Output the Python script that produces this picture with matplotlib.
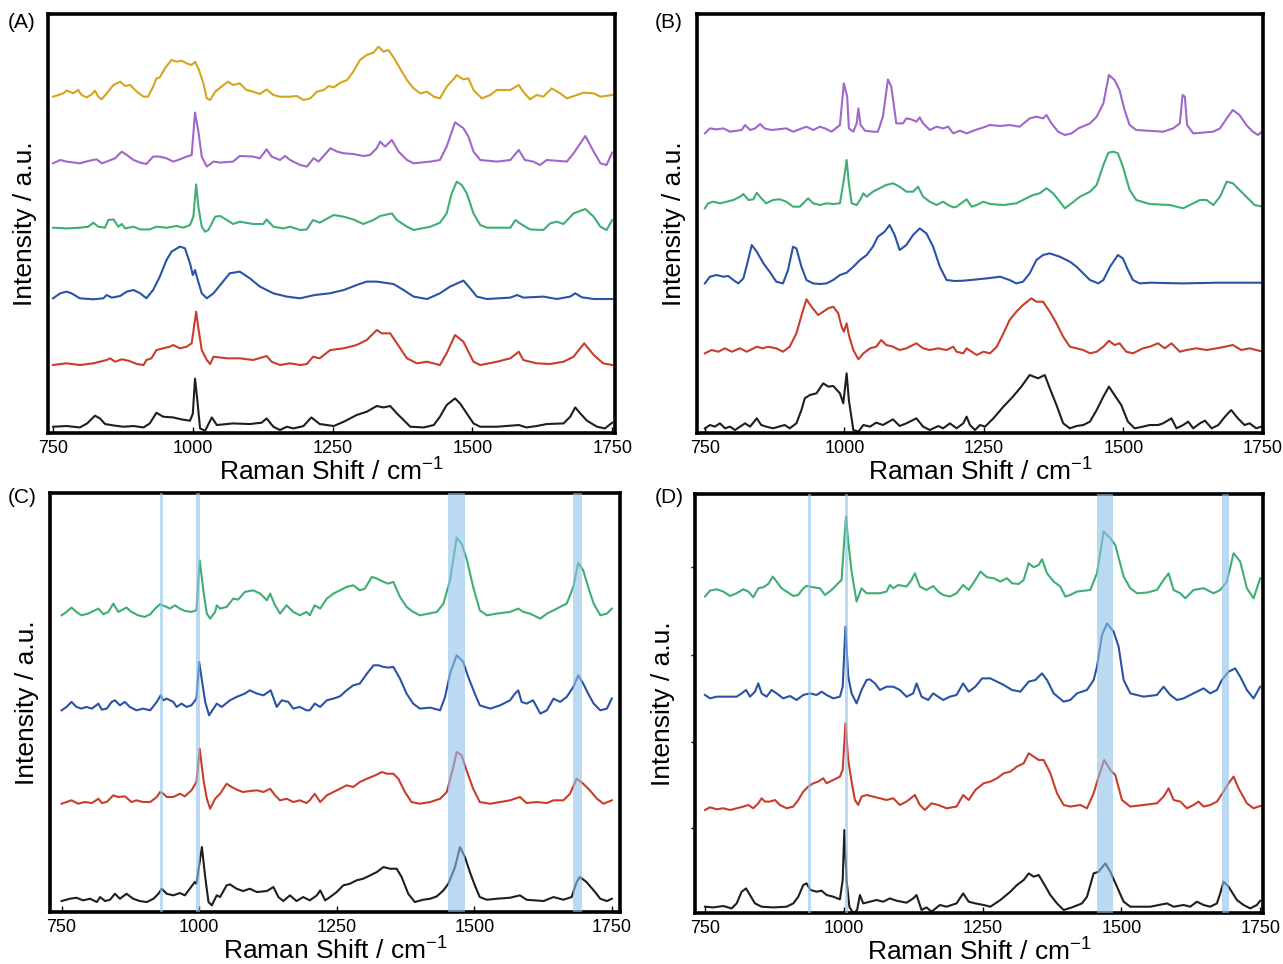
import numpy as np
import matplotlib.pyplot as plt

plt.rcParams['font.family'] = ['Liberation Sans', 'DejaVu Sans']
plt.rcParams['mathtext.fontset'] = 'custom'
plt.rcParams['mathtext.rm'] = 'Liberation Sans'

TICKS = [750, 1000, 1250, 1500, 1750]
TICK_LABELS = ['750', '1000', '1250', '1500', '1750']
XLABEL = r'Raman Shift / cm$^{\mathregular{-1}}$'
YLABEL = 'Intensity / a.u.'

BLACK = '#1e1e1e'
RED = '#c93d2c'
BLUE = '#2a52a6'
GREEN = '#3fae74'
PURPLE = '#a066cc'
GOLD = '#d6a51c'
BAND = '#8fc2e8'

# ---- panel A : (Raman shift, intensity above own baseline)
A_BLACK = [(750,0),(774,0.7),(798,-0.7),(811,3.3),(825,11),(834,8.3),(843,2.7),(858,1.3),(876,0),(894,0.7),(912,-0.7),(923,3.3),(935,14),(947,10),(965,9.3),(980,7.3),(995,6),(1000,13),(1004,48),(1008,27),(1013,-1.7),(1022,-4),(1034,9.3),(1043,1.7),(1072,3.3),(1102,2.7),(1123,4),(1132,8.3),(1144,0),(1156,-3.3),(1168,0),(1180,-1.7),(1198,0.7),(1212,9.3),(1227,2.7),(1252,0.7),(1270,5),(1293,11.7),(1311,15),(1329,20.7),(1341,19.3),(1353,20.7),(1365,13.3),(1380,5),(1389,0),(1413,-0.7),(1431,1.7),(1442,10),(1454,21.7),(1469,28.3),(1478,23.3),(1490,13.3),(1502,3.3),(1514,0),(1544,0),(1583,1.7),(1597,-0.7),(1615,0.7),(1633,2.7),(1663,3.3),(1675,10),(1684,19.3),(1693,13.3),(1705,6),(1723,0),(1737,-1.7),(1750,4)]
A_RED = [(750,0),(774,1.7),(798,0),(822,1.7),(846,5),(852,6.7),(861,3.3),(873,5.7),(885,4.3),(900,1),(912,0),(917,5),(926,6.7),(935,15),(947,16.7),(959,18.3),(965,20),(977,16.7),(989,18.3),(998,21.7),(1006,53.3),(1010,36.7),(1016,15),(1025,5),(1031,1),(1037,8.3),(1061,6.7),(1084,6.7),(1108,5),(1132,9),(1141,3.3),(1156,0),(1174,1.7),(1192,0),(1204,1),(1215,8.3),(1227,6.7),(1246,15),(1270,16.7),(1293,20),(1311,25),(1329,35),(1338,31.7),(1353,31.7),(1365,21.7),(1383,6.7),(1401,1.7),(1419,3.3),(1442,0),(1454,11.7),(1469,30),(1484,23.3),(1502,3.3),(1514,0),(1544,3.3),(1568,6.7),(1583,13.3),(1591,5),(1615,1.7),(1639,1),(1663,3.3),(1681,8.3),(1700,21.7),(1717,10),(1734,1.7),(1750,0)]
A_BLUE = [(750,0),(763,5),(774,6.7),(783,5),(798,0),(822,-1),(840,0),(846,3.3),(855,0.7),(870,2.3),(882,6.7),(894,8.3),(906,5),(917,0),(929,8.3),(941,21.7),(953,38.3),(962,46.7),(977,51.7),(986,50),(995,35),(1000,23.3),(1004,28.3),(1008,20),(1016,5),(1025,0),(1037,5),(1049,13.3),(1066,25),(1084,26.7),(1102,20),(1120,11.7),(1144,5),(1168,1.7),(1192,0),(1218,3.3),(1245,5),(1270,8.3),(1293,13.3),(1311,16.7),(1329,16.7),(1359,14.3),(1377,8.3),(1395,1.7),(1419,-0.7),(1442,5),(1460,11.7),(1484,17.7),(1496,10),(1508,1.7),(1526,-0.7),(1568,0.7),(1580,3.3),(1591,0.7),(1627,1.7),(1651,-0.7),(1675,1.7),(1684,5),(1696,1),(1717,-0.7),(1750,-0.7)]
A_GREEN = [(750,0),(774,-0.7),(798,0),(813,1),(822,5),(831,1),(843,0),(849,7.7),(858,8.3),(867,1),(873,3.7),(879,-0.7),(894,1),(906,-1.7),(923,-1.7),(935,1),(953,0),(971,1.7),(983,0),(995,2.7),(1001,11),(1006,43.3),(1010,21),(1016,1),(1022,-4),(1028,-2.3),(1040,11),(1049,11.7),(1061,7.7),(1072,3.7),(1084,6),(1108,3.7),(1126,3.7),(1132,8.3),(1144,1),(1162,-0.7),(1174,1),(1192,-2.3),(1204,-1.7),(1215,7.7),(1227,5),(1252,12.7),(1270,11),(1287,8.3),(1305,3.7),(1323,7.7),(1335,11.7),(1356,14.3),(1365,7.7),(1383,1),(1395,-2.3),(1425,1),(1442,5),(1454,14.3),(1463,34.3),(1472,46),(1481,42.7),(1490,34.3),(1502,14.3),(1514,2.7),(1526,0),(1568,0),(1577,7.7),(1585,4.3),(1603,-1.7),(1627,-2.3),(1639,4.3),(1651,6),(1663,3.7),(1681,14.3),(1702,18.7),(1717,11),(1729,1),(1740,-2.3),(1750,7.7)]
A_PURPLE = [(750,0),(763,3.3),(774,1.7),(798,0),(816,2.7),(828,4),(837,0),(846,1.7),(861,5),(873,11.7),(882,8.3),(894,3.3),(906,0.7),(917,-0.7),(929,6.7),(941,6.7),(953,5),(965,1.7),(977,4),(989,6.7),(998,8.3),(1004,50.7),(1010,31.7),(1016,6.7),(1025,-3.3),(1037,1.7),(1049,0.7),(1072,1.7),(1084,7.3),(1108,6.7),(1120,5),(1132,14),(1141,6.7),(1156,3.3),(1165,7.3),(1174,3.3),(1192,-1.7),(1204,-3.3),(1216,5),(1225,1.7),(1246,15),(1258,11.7),(1270,10),(1287,9.3),(1305,7.3),(1317,8.3),(1329,15),(1335,21.7),(1344,16.7),(1356,23.3),(1368,11.7),(1383,3.3),(1395,0),(1425,1.7),(1442,3.3),(1454,16.7),(1469,41),(1484,35),(1493,26.7),(1502,11.7),(1514,3.3),(1544,1.7),(1568,3.3),(1583,13.3),(1594,3.3),(1609,1.7),(1621,-1.7),(1633,3.3),(1669,1.7),(1681,10),(1702,27.3),(1717,11.7),(1729,0),(1740,-1.7),(1750,10.7)]
A_GOLD = [(750,0),(760,1.7),(768,3.3),(774,6),(780,5),(786,3.3),(795,6.7),(801,1.7),(810,-0.7),(819,2.3),(825,6),(831,0),(837,-2.7),(846,3.3),(858,11.7),(870,15),(879,10.7),(888,11.7),(900,5),(912,0),(920,0),(929,10),(935,18.3),(941,19.3),(950,28.3),(962,36.7),(971,35),(980,36),(989,33.3),(998,31.7),(1004,35),(1010,28.3),(1019,13.3),(1025,-1.7),(1031,-3.3),(1040,5),(1055,11.7),(1063,15),(1072,11.7),(1084,13.3),(1096,6.7),(1108,5),(1120,2.7),(1132,7.3),(1144,1.7),(1156,0),(1174,0),(1186,0.7),(1198,-3.3),(1210,-1.7),(1222,5),(1234,6.7),(1243,10.7),(1252,9.3),(1264,14),(1276,16.7),(1287,25),(1299,36.7),(1311,41.7),(1323,44),(1332,50),(1341,45),(1350,46.7),(1362,36.7),(1374,25),(1383,16.7),(1395,8.3),(1407,3.3),(1419,5),(1431,0),(1442,-1.7),(1454,10),(1466,17.3),(1472,21.7),(1484,17.3),(1493,18.3),(1502,6.7),(1517,-1.7),(1532,1.7),(1544,6.7),(1568,6.7),(1583,11.7),(1591,5),(1603,-2.7),(1615,1.7),(1627,0),(1642,8.3),(1657,3.3),(1669,-1.7),(1687,1.7),(1699,4),(1717,3.3),(1729,0),(1750,1.7)]
A_OFFSETS = [6.3, 68, 134.7, 205.3, 269.7, 336.3]

# ---- panel B
B_BLACK = [(750,0),(759,3.3),(768,1.7),(777,5),(786,0),(795,1.7),(804,-1.7),(822,5),(831,1.7),(843,10),(851,3.3),(860,1.7),(872,0),(893,3.3),(902,0),(914,5),(923,18.3),(929,30),(938,33.3),(950,35),(962,45),(971,41.7),(980,42.3),(992,35),(998,25),(1004,55),(1008,28.3),(1016,-1.7),(1025,-3.3),(1034,3.3),(1046,1.7),(1057,5.7),(1069,3.3),(1087,9),(1099,2.3),(1111,5),(1129,10),(1141,1.7),(1153,-1.7),(1168,2.3),(1177,0),(1189,5),(1201,0),(1213,5),(1219,11.7),(1225,3.3),(1234,-1.7),(1243,3.3),(1252,1.7),(1267,10),(1285,21.7),(1302,31.7),(1317,41.7),(1332,53.3),(1347,50),(1359,53.3),(1368,40),(1380,23.3),(1392,5),(1404,0),(1416,2.3),(1428,3.3),(1440,6.7),(1452,18.3),(1464,31.7),(1474,41.7),(1484,33.3),(1496,23.3),(1508,6.7),(1520,0),(1535,1.7),(1547,3.3),(1562,3.3),(1571,5),(1586,10),(1595,0),(1607,3.3),(1616,6.7),(1625,0),(1637,5),(1646,7.7),(1658,0),(1670,3.3),(1682,11.7),(1693,18.3),(1705,10),(1717,3.3),(1726,5),(1738,0),(1750,2.3)]
B_RED = [(750,-3.3),(762,0),(774,-1.7),(786,1.7),(798,-1.7),(813,1.7),(825,-1.7),(843,3.3),(854,1.7),(863,3.3),(878,1.7),(890,-1.7),(902,3.3),(914,16.7),(926,40),(932,50.7),(941,43.3),(953,35),(962,38.3),(971,41.7),(980,43.3),(989,36.7),(995,23.3),(999,18.3),(1004,26.7),(1008,15),(1016,0),(1025,-9.3),(1034,-3.3),(1046,1.7),(1057,3.3),(1066,10),(1075,5),(1087,3.3),(1099,0),(1111,1.7),(1129,6.7),(1141,1.7),(1153,0),(1168,1.7),(1183,0),(1195,3.3),(1201,-1.7),(1213,-3.3),(1219,1.7),(1228,-1.7),(1237,-5),(1249,-1.7),(1261,-3.3),(1273,3.3),(1285,16.7),(1296,30),(1308,38.3),(1320,45),(1335,51.7),(1344,48.3),(1356,48.3),(1368,38.3),(1380,26.7),(1392,13.3),(1404,3.3),(1416,1.7),(1428,0),(1440,-3.3),(1452,-1.7),(1464,3.3),(1474,9.3),(1484,5),(1493,6.7),(1505,-1.7),(1517,-3.3),(1535,1.7),(1547,3.3),(1562,6.7),(1574,1.7),(1586,6.7),(1601,-1.7),(1613,0),(1631,1.7),(1649,0),(1667,1.7),(1682,3.3),(1696,5),(1711,0),(1726,1.7),(1750,-1.7)]
B_BLUE = [(750,-1.7),(759,5),(771,6.7),(783,5),(792,5.7),(801,1.7),(810,-1.7),(819,3.3),(826,18.3),(834,36.7),(843,30),(855,18.3),(866,10),(878,0),(890,-1.7),(899,11.7),(908,35),(914,33.3),(923,15),(932,1.7),(944,-1.7),(956,-2.3),(968,-1.7),(980,1.7),(992,6.7),(1004,9),(1016,15),(1028,21.7),(1040,26.7),(1051,35),(1060,45),(1072,50),(1081,56.7),(1090,46.7),(1099,31.7),(1111,36.7),(1123,46.7),(1135,53.3),(1147,48.3),(1159,35),(1171,15),(1183,1.7),(1198,0.7),(1213,1),(1237,2.3),(1255,3.3),(1279,5),(1296,1.7),(1308,-1.7),(1320,0),(1332,8.3),(1344,21.7),(1356,26.7),(1368,28.3),(1386,25),(1404,20),(1416,15),(1428,8.3),(1440,1.7),(1455,-1.7),(1464,1.7),(1476,15),(1490,26.7),(1499,23.3),(1508,11.7),(1517,1.7),(1529,-1.7),(1547,-1),(1607,-1.7),(1667,-1),(1750,-1)]
B_GREEN = [(750,-4.3),(756,0.7),(765,2.3),(777,0.7),(789,2.3),(801,4),(813,7.3),(819,10),(828,4),(837,4.7),(843,11.3),(851,5.7),(860,0.7),(872,4),(884,4.7),(896,2.3),(908,-2.7),(920,-2.7),(929,2.3),(935,5.7),(944,0.7),(956,-1),(968,0.7),(980,0),(992,0.7),(999,24),(1004,44),(1008,20.7),(1013,0.7),(1022,-1),(1028,4),(1034,10.7),(1040,7.3),(1051,12.3),(1063,15.7),(1075,19),(1087,20.7),(1099,17.3),(1111,12.3),(1123,12.3),(1132,17.3),(1141,7.3),(1153,2.3),(1165,-1),(1177,2.3),(1186,-1),(1195,-3.3),(1201,-2.7),(1213,2.3),(1219,4.7),(1228,-2.7),(1237,-1),(1249,2.3),(1261,0),(1285,-1),(1308,0.7),(1326,5.7),(1338,9),(1350,10.7),(1362,15.7),(1374,10.7),(1386,2.3),(1395,-4.3),(1407,0.7),(1422,7.3),(1440,12.3),(1452,19),(1464,39),(1473,51.3),(1482,52.3),(1490,50.7),(1499,37.3),(1511,14),(1523,4),(1547,0),(1583,-1),(1607,-4.3),(1619,-1),(1637,4),(1649,4),(1661,-1),(1673,7.3),(1685,22.3),(1696,20.7),(1708,14),(1723,5.7),(1735,-1),(1750,-2.7)]
B_PURPLE = [(750,-2.7),(759,2.3),(771,1.3),(783,2.3),(795,-1),(816,0.7),(822,5.7),(831,0.7),(840,2.3),(849,6.7),(857,2.3),(869,0.7),(896,2.3),(908,-1),(932,4),(944,0.7),(956,4),(965,2.3),(977,-1),(992,5.7),(999,47.3),(1005,34),(1008,2.3),(1016,-1),(1022,7.3),(1025,22.3),(1029,5.7),(1037,0),(1051,-1),(1060,-1),(1069,14),(1078,51.3),(1084,44),(1093,7.3),(1105,7.3),(1111,12.3),(1120,11.3),(1129,9),(1135,13.3),(1141,7.3),(1153,0.7),(1165,4),(1177,2.3),(1186,4),(1195,-2.7),(1207,0),(1219,-2.7),(1231,0),(1249,3.3),(1261,5.7),(1279,4.7),(1296,5.7),(1314,4),(1332,12.3),(1344,14),(1356,12.3),(1362,15.7),(1371,7.3),(1383,-1),(1395,-4.3),(1407,-2.7),(1419,2.3),(1440,7.3),(1452,14),(1464,27.3),(1474,55.7),(1484,50.7),(1493,40.7),(1502,20.7),(1511,5.7),(1523,0.7),(1571,-1),(1589,2.3),(1601,7.3),(1606,35.7),(1610,34),(1614,5.7),(1625,-2.7),(1661,-1),(1673,2.3),(1685,12.3),(1696,20.7),(1708,15.7),(1720,5.7),(1732,-1),(1741,-4.3),(1750,0)]
B_OFFSETS = [4.7, 83, 151.3, 229, 302.3]

# ---- panel C
C_BLACK = [(750,0),(765,2.3),(777,3.3),(789,0.7),(802,2.3),(814,-1),(820,4),(829,0),(838,1.3),(847,7.3),(856,2.3),(868,7.3),(880,2.3),(892,0),(905,-1),(917,2.3),(926,7.3),(932,12.3),(941,7.3),(953,5.7),(965,8),(974,5.7),(983,12.3),(992,19),(995,17.3),(1005,54),(1011,24),(1017,-1),(1023,-4.3),(1032,5.7),(1038,4),(1050,15.7),(1056,16.7),(1068,12.3),(1080,10),(1092,12.3),(1105,9),(1123,10),(1135,14),(1144,4),(1153,0),(1165,5.7),(1177,0),(1189,4),(1201,0.7),(1214,5.7),(1220,10.7),(1229,0.7),(1238,4),(1250,9),(1262,15.7),(1274,17.3),(1286,20.7),(1298,22.3),(1311,25.7),(1323,29),(1335,34),(1347,32.3),(1359,32.3),(1368,24),(1380,7.3),(1392,-1),(1407,1.3),(1420,2.3),(1432,4.7),(1444,10.7),(1453,17.3),(1465,34),(1474,54),(1483,44),(1492,29),(1501,15.7),(1510,4),(1523,1.3),(1541,2.3),(1565,3.3),(1583,5.7),(1595,1.3),(1626,0),(1644,4),(1662,1.3),(1677,4),(1686,19),(1692,24),(1704,19),(1717,10.7),(1729,2.3),(1741,0),(1750,2.3)]
C_RED = [(750,-1.7),(759,0),(768,1.7),(780,-1.7),(792,0),(805,-1),(817,3.3),(823,-1),(832,0),(844,6.7),(853,5),(865,5.7),(877,0),(886,1.7),(898,0),(911,0),(923,5),(929,10),(935,8.3),(941,5),(953,5),(965,8.3),(974,5.7),(986,11.7),(995,20),(1001,53.3),(1008,21.7),(1014,3.3),(1020,-6.7),(1029,3.3),(1038,8.3),(1050,18.3),(1059,15),(1071,11.7),(1080,10),(1092,11),(1105,11.7),(1117,10),(1129,13.3),(1138,6.7),(1147,1.7),(1159,3.3),(1171,0),(1183,1.7),(1195,-1),(1201,1.7),(1210,8.3),(1220,0),(1232,6.7),(1244,10),(1256,13.3),(1268,16.7),(1280,15),(1292,20),(1305,23.3),(1320,26.7),(1332,30),(1341,28.3),(1353,28.3),(1362,23.3),(1374,10),(1386,0),(1401,-1.7),(1420,0),(1438,3.3),(1450,10),(1462,35),(1468,50),(1477,46.7),(1486,31.7),(1498,13.3),(1510,0),(1529,-1.7),(1547,0),(1565,1.7),(1583,5),(1595,-1),(1613,0),(1632,-1),(1644,1.7),(1662,1.7),(1674,8.3),(1686,23.3),(1698,18.3),(1710,11.7),(1723,3.3),(1735,-1.7),(1750,1.7)]
C_BLUE = [(750,-1.7),(759,1.7),(768,6.7),(777,1.7),(786,0),(795,1.7),(805,0),(817,5),(823,-1),(832,0),(841,6.7),(847,8.3),(856,3.3),(865,6.7),(874,1.7),(886,-1.7),(898,0),(911,-1.7),(923,6.7),(930,13.3),(935,8.3),(941,10),(953,6.7),(959,1.7),(968,5),(977,1.7),(986,3.3),(995,10),(1000,46.7),(1005,28.3),(1011,6.7),(1018,-6.7),(1026,0),(1032,5),(1041,1.7),(1056,8.3),(1068,11.7),(1083,15),(1092,18.3),(1105,15),(1117,13.3),(1130,18.3),(1141,1.7),(1150,8.3),(1162,6.7),(1171,0),(1183,1.7),(1195,-1.7),(1201,-1.7),(1210,5),(1220,1.7),(1232,8.3),(1244,10),(1256,12.3),(1268,18.3),(1280,23.3),(1292,25),(1305,35),(1317,43.3),(1326,43.3),(1335,41.7),(1344,41),(1353,41.7),(1365,30),(1377,15),(1389,5),(1401,0),(1420,1),(1438,-1.7),(1447,11.7),(1456,35),(1468,53.3),(1480,46.7),(1489,31.7),(1501,15),(1510,3.3),(1529,0),(1547,3.3),(1565,8.3),(1574,15),(1580,18.3),(1586,6.7),(1595,5),(1607,8.3),(1620,-5),(1632,-1.7),(1644,10),(1656,6.7),(1668,11.7),(1680,21.7),(1689,33.3),(1698,25),(1707,15),(1717,5),(1729,-1.7),(1741,0),(1750,10)]
C_GREEN = [(750,-1.7),(759,1.7),(768,6),(777,1.7),(786,-1.7),(798,0),(817,5),(826,-0.7),(835,1.7),(844,10),(853,1.7),(868,6),(877,1.7),(889,-1.7),(901,-3.3),(911,-0.7),(920,5),(929,9.3),(938,7.3),(947,5),(956,8.3),(965,5),(974,2.7),(986,1.7),(995,3.3),(1001,53.3),(1008,21.7),(1014,0),(1020,-5),(1029,1.7),(1032,8.3),(1038,5),(1050,6.7),(1062,15),(1071,14),(1083,21.7),(1098,23.3),(1111,20),(1123,13.3),(1129,20),(1138,8.3),(1147,0),(1159,8.3),(1171,1.7),(1183,-1.7),(1195,1.7),(1201,-1.7),(1210,8.3),(1220,5),(1232,15),(1244,20),(1256,23.3),(1268,26.7),(1280,28.3),(1292,23.3),(1301,25),(1314,36.7),(1323,35),(1335,31.7),(1344,30),(1353,31.7),(1365,16.7),(1377,6.7),(1389,1.7),(1401,-1.7),(1417,0),(1432,1.7),(1444,10),(1456,33.3),(1468,76),(1477,70),(1486,55),(1498,26.7),(1510,3.3),(1523,-1.7),(1541,0),(1565,1.7),(1580,5),(1589,1.7),(1601,0),(1620,-5),(1632,0),(1644,3.3),(1656,6.7),(1668,10),(1680,26.7),(1689,50.7),(1698,43.3),(1707,26.7),(1717,10),(1729,-1.7),(1741,0),(1750,5)]
C_OFFSETS = [11, 110, 203.4, 298.4]
C_BANDS = [(929, 935), (995, 1001), (1453, 1483), (1680, 1695)]

# ---- panel D
D_BLACK = [(750,0),(765,-0.7),(783,0.7),(798,-1.7),(807,3.3),(816,15),(824,18.3),(831,11.7),(840,3.3),(852,0),(873,-0.7),(897,0),(909,3.3),(918,10),(927,21.7),(933,23.3),(940,16.7),(951,15),(960,16),(969,11.7),(981,10),(993,7.3),(998,26.7),(1001,76.7),(1005,26.7),(1010,0),(1017,-6.7),(1024,-3.3),(1029,11.7),(1035,3.3),(1047,5),(1059,6.7),(1071,5),(1083,8.3),(1095,6),(1113,4),(1125,8.3),(1131,11.7),(1140,-3.3),(1149,-0.7),(1158,-5),(1173,1.7),(1185,0),(1203,3.3),(1215,13.3),(1225,5),(1237,3.3),(1252,1.7),(1264,0),(1282,6.7),(1300,15),(1312,21.7),(1324,26.7),(1333,33.3),(1342,30),(1351,31.7),(1360,23.3),(1372,11.7),(1384,3.3),(1396,-3.3),(1411,-0.7),(1429,3.3),(1438,10),(1450,33.3),(1459,35),(1471,43.3),(1480,35),(1492,20),(1504,5),(1516,0),(1552,0),(1582,3.3),(1594,0),(1612,1.7),(1624,0),(1636,5),(1648,1.7),(1660,0),(1672,3.3),(1678,13.3),(1684,25),(1693,20),(1708,6.7),(1720,1.7),(1732,-1.7),(1744,1.7),(1750,6)]
D_RED = [(750,-1.7),(759,1),(771,-1),(783,0),(795,-1.7),(807,0),(819,1.7),(828,3.3),(837,0),(846,5),(852,10),(858,6.7),(867,6.7),(876,8.3),(885,3.3),(897,0),(909,1.7),(918,8.3),(927,16.7),(936,21.7),(945,25),(954,26.7),(963,30),(969,25),(981,28.3),(993,31.7),(998,38.3),(1003,85),(1008,48.3),(1014,26.7),(1020,8.3),(1026,3.3),(1032,11.7),(1041,13.3),(1053,11.7),(1065,10),(1077,8.3),(1089,10),(1101,3.3),(1113,6.7),(1128,13.3),(1137,3.3),(1146,-1.7),(1158,5),(1170,3.3),(1185,0),(1203,1.7),(1215,13.3),(1225,8.3),(1237,18.3),(1252,25),(1264,26.7),(1276,30),(1288,35),(1300,36.7),(1312,41.7),(1324,45),(1333,55),(1342,51.7),(1351,48.3),(1360,48.3),(1372,35),(1384,15),(1396,3.3),(1408,1.7),(1426,3.3),(1438,0),(1450,15),(1459,31.7),(1469,48.3),(1480,38.3),(1489,33.3),(1501,8.3),(1516,1.7),(1540,3.3),(1564,5),(1576,11.7),(1585,20),(1594,8.3),(1606,6.7),(1618,0),(1630,3.3),(1639,6.7),(1648,1.7),(1660,3.3),(1672,6.7),(1684,16.7),(1693,25),(1702,31.7),(1711,20),(1726,5),(1738,0),(1750,2.3)]
D_BLUE = [(750,1.7),(759,-1.7),(771,0),(807,0),(816,3.3),(824,6.7),(831,0),(840,5),(846,13.3),(852,3.3),(861,0),(870,6.7),(879,3.3),(891,-1.7),(903,0.7),(915,-3.3),(927,1.7),(939,3.3),(951,1.7),(960,5),(969,1.7),(981,-1.7),(993,0),(998,10),(1003,70),(1008,20),(1014,3.3),(1023,-6.7),(1032,6.7),(1041,16.7),(1047,17.3),(1056,13.3),(1065,6.7),(1077,10),(1089,10),(1101,6.7),(1113,0),(1125,3.3),(1131,13.3),(1140,0),(1152,-3.3),(1161,3.3),(1170,0),(1179,-3.3),(1191,0),(1203,1.7),(1215,13.3),(1225,5),(1237,10),(1249,18.3),(1264,18.3),(1276,15),(1288,11.7),(1303,6.7),(1318,5),(1333,15),(1345,16.7),(1357,23.3),(1366,16.7),(1378,3.3),(1396,-5),(1408,-3.3),(1420,3.3),(1438,6.7),(1450,16.7),(1456,30),(1465,61.7),(1474,73.3),(1486,65),(1495,50),(1504,16.7),(1516,3.3),(1540,0),(1564,1.7),(1576,10),(1588,1.7),(1600,-3.3),(1612,-1.7),(1624,1.7),(1636,5),(1648,8.3),(1660,3.3),(1672,6.7),(1681,16.7),(1693,25),(1705,28.3),(1714,20),(1726,6.7),(1738,-1.7),(1750,10)]
D_GREEN = [(750,-3.3),(759,2.7),(771,4),(783,1.7),(795,-2.7),(807,0),(819,4),(828,1.7),(837,-4),(846,5),(855,6),(864,9.3),(872,16.7),(879,11.7),(888,5),(897,1.7),(909,-2.7),(918,-1.7),(927,5),(933,7.3),(945,6),(957,5),(966,-1.7),(978,3.3),(990,10),(996,13.3),(1000,46.7),(1004,76.7),(1008,51.7),(1014,21.7),(1023,-8.3),(1032,5),(1041,0),(1065,0),(1077,1.7),(1083,8.3),(1089,5),(1098,8.3),(1113,6.7),(1122,13.3),(1128,20),(1137,6.7),(1149,3.3),(1161,7.3),(1170,1.7),(1179,-1.7),(1191,-3.3),(1203,0),(1215,8.3),(1225,3.3),(1237,13.3),(1246,21.7),(1258,16),(1270,15),(1282,11.7),(1294,15),(1303,10),(1315,9.3),(1324,13.3),(1333,30),(1342,26),(1351,28.3),(1357,34),(1366,20),(1378,11.7),(1390,6.7),(1399,-3.3),(1408,-1.7),(1420,1.7),(1444,3.3),(1456,20),(1468,61.7),(1480,55),(1489,48.3),(1504,16.7),(1516,5),(1528,0),(1546,0.7),(1564,3.3),(1576,13.3),(1585,20),(1594,3.3),(1606,0),(1615,-5),(1630,3.3),(1648,5),(1666,0),(1678,3.3),(1690,11.7),(1702,40),(1714,31.7),(1726,5),(1738,-5),(1750,15)]
D_OFFSETS = [6.3, 104.7, 216.3, 319.7]
D_BANDS = [(936, 941), (1002, 1008), (1456, 1484), (1681, 1693)]

fig = plt.figure(figsize=(12.83, 9.64), dpi=100)


def panel(rect, xlim, series, offsets, colors, bands, letter, lx, ly):
    ax = fig.add_axes(rect)
    for s, off, c in zip(series, offsets, colors):
        xs, ys = zip(*s)
        ax.plot(xs, np.array(ys) + off, color=c, lw=1.5, zorder=2)
    for lo, hi in bands:
        ax.axvspan(lo, hi, color=BAND, alpha=0.6, lw=0, zorder=3)
    ax.set_xlim(*xlim)
    ax.set_ylim(0, 419)
    ax.set_xticks(TICKS)
    ax.set_xticklabels(TICK_LABELS)
    ax.tick_params(axis='x', direction='in', length=4, width=1, labelsize=13, pad=5)
    ax.set_yticks([])
    for sp in ax.spines.values():
        sp.set_linewidth(2.6)
    ax.set_xlabel(XLABEL, fontsize=19, labelpad=0)
    ax.set_ylabel(YLABEL, fontsize=19, labelpad=8)
    fig.text(lx, ly, letter, fontsize=15, va='center', ha='left')
    return ax


panel([0.0374, 0.5508, 0.4419, 0.4347], (741, 1755),
      [A_BLACK, A_RED, A_BLUE, A_GREEN, A_PURPLE, A_GOLD], A_OFFSETS,
      [BLACK, RED, BLUE, GREEN, PURPLE, GOLD], [], '(A)', 0.006, 0.977)
panel([0.5433, 0.5508, 0.4411, 0.4347], (736, 1750),
      [B_BLACK, B_RED, B_BLUE, B_GREEN, B_PURPLE], B_OFFSETS,
      [BLACK, RED, BLUE, GREEN, PURPLE], [], '(B)', 0.510, 0.977)
panel([0.0390, 0.0539, 0.4443, 0.4347], (729, 1765),
      [C_BLACK, C_RED, C_BLUE, C_GREEN], C_OFFSETS,
      [BLACK, RED, BLUE, GREEN], C_BANDS, '(C)', 0.006, 0.484)
axd = panel([0.5417, 0.0529, 0.4427, 0.4347], (732, 1755),
            [D_BLACK, D_RED, D_BLUE, D_GREEN], D_OFFSETS,
            [BLACK, RED, BLUE, GREEN], D_BANDS, '(D)', 0.510, 0.484)
axd.set_yticks([85, 171, 258, 346])
axd.set_yticklabels([])
axd.tick_params(axis='y', direction='out', length=3, width=1)

fig.savefig('out.png', dpi=100)
